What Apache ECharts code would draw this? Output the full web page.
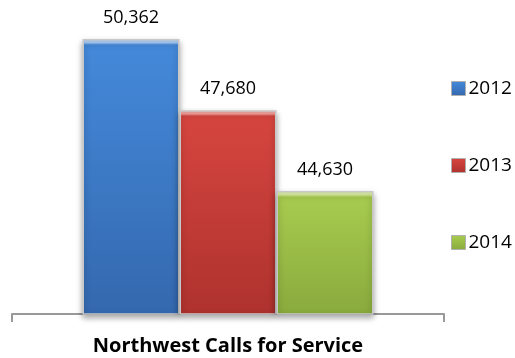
<!DOCTYPE html>
<html>
<head>
<meta charset="utf-8">
<script src="https://cdn.jsdelivr.net/npm/echarts@6/dist/echarts.min.js"></script>
<style>
  html, body { margin: 0; padding: 0; background: #fff; }
  #main { width: 515px; height: 358px; }
</style>
</head>
<body>
<div id="main"></div>
<script>
// data
var categories = ['Northwest Calls for Service'];
var years = ['2012', '2013', '2014'];
var calls = [50362, 47680, 44630];
// top / body / bottom shades per series
var shades = [
  ['#a9cdf5', '#4489da', '#3468ae'],
  ['#f2a19d', '#d6453f', '#ae322e'],
  ['#d9ec9f', '#a7cb4f', '#89aa3d']
];

var chart = echarts.init(document.getElementById('main'));

// bevel stripe about 6px tall whatever the bar height
function barColor(s, h) {
  var e = Math.min(6 / h, 0.2);
  return new echarts.graphic.LinearGradient(0, 0, 0, 1, [
    { offset: 0, color: s[0] },
    { offset: e * 0.6, color: s[0] },
    { offset: e, color: s[1] },
    { offset: 1, color: s[2] }
  ]);
}

function buildSeries(heights) {
  return years.map(function (y, i) {
    return {
      name: y,
      type: 'bar',
      barWidth: 97,
      barGap: '0%',
      data: [calls[i]],
      itemStyle: {
        color: barColor(shades[i], heights ? heights[i] : 100),
        borderColor: '#c8c8c8',
        borderWidth: 1.5,
        shadowColor: 'rgba(0,0,0,0.35)',
        shadowBlur: 6,
        shadowOffsetY: 3
      },
      label: {
        show: true,
        position: 'top',
        distance: 12,
        color: '#000',
        fontFamily: 'Open Sans',
        fontSize: 18,
        formatter: function (p) {
          return p.value.toLocaleString('en-US');
        }
      }
    };
  });
}

var option = {
  animation: false,
  grid: { left: 12, right: 71, top: 22, bottom: 44 },
  legend: {
    orient: 'vertical',
    left: 446,
    top: 74,
    itemWidth: 14,
    itemHeight: 14,
    itemGap: 58,
    icon: 'rect',
    data: years,
    itemStyle: { borderColor: '#b0b0b0', borderWidth: 1 },
    textStyle: { fontFamily: 'Open Sans', fontSize: 19, color: '#000', padding: [0, 0, 0, -2] }
  },
  xAxis: {
    type: 'category',
    data: categories,
    axisLine: { lineStyle: { color: '#999', width: 2 } },
    axisTick: { show: true, length: 8, lineStyle: { color: '#999', width: 2 } },
    axisLabel: {
      margin: 22,
      color: '#000',
      fontFamily: 'Open Sans',
      fontWeight: 'bold',
      fontSize: 20
    }
  },
  yAxis: {
    type: 'value',
    min: 40000,
    max: 51000,
    show: false,
    splitLine: { show: false }
  },
  series: buildSeries(null)
};

chart.setOption(option);

// bar heights in pixels from the axis scale, then redo the gradients
var base = chart.convertToPixel({ yAxisIndex: 0 }, 40000);
var heights = calls.map(function (v) {
  return base - chart.convertToPixel({ yAxisIndex: 0 }, v);
});
chart.setOption({ series: buildSeries(heights) });
</script>
</body>
</html>
